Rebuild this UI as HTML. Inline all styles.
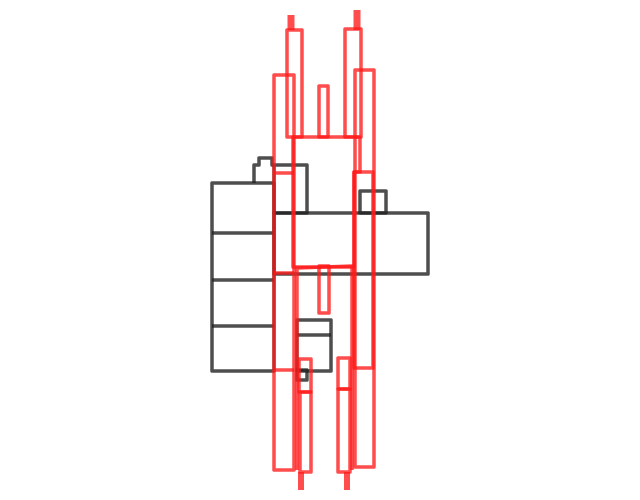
<!DOCTYPE html>
<html><head><meta charset="utf-8"><style>html,body{margin:0;padding:0;background:#fff}svg{display:block}</style></head>
<body>
<svg width="640" height="500" viewBox="0 0 640 500">
<g fill="none" stroke="#222" stroke-opacity="0.8" stroke-width="3.5" stroke-linejoin="round">
  <rect x="212" y="183" width="62" height="188"/>
  <line x1="212" y1="233" x2="274" y2="233"/>
  <line x1="212" y1="280" x2="274" y2="280"/>
  <line x1="212" y1="326" x2="274" y2="326"/>
  <path d="M254 183 V165 H259 V158 H272 V165 H274"/>
  <rect x="274" y="165" width="33" height="48"/>
  <rect x="274" y="213" width="154" height="61"/>
  <rect x="360" y="191" width="26" height="22"/>
  <rect x="297" y="320" width="34" height="51"/>
  <line x1="297" y1="335" x2="331" y2="335"/>
  <rect x="297" y="370" width="10" height="10"/>
</g>
<g fill="none" stroke="#ff1a1a" stroke-opacity="0.78" stroke-width="3.5" stroke-linejoin="round">
  <line x1="291" y1="15" x2="291" y2="30" stroke-width="7"/>
  <line x1="357" y1="10" x2="357" y2="30" stroke-width="7"/>
  <rect x="287" y="30" width="15" height="107"/>
  <rect x="274" y="75" width="20" height="395"/>
  <rect x="319" y="86" width="9" height="51"/>
  <rect x="345" y="29" width="16" height="108"/>
  <rect x="355" y="70" width="19" height="397"/>
  <path d="M293 137 H360 V172 H354 V267 H293 Z"/>
  <rect x="354" y="172" width="19" height="196"/>
  <line x1="274" y1="173" x2="294" y2="173"/>
  <line x1="274" y1="273" x2="294" y2="273"/>
  <line x1="274" y1="370" x2="294" y2="370"/>
  <path d="M297 470 V268 L352 266 V470"/>
  <rect x="319" y="266" width="10" height="47"/>
  <rect x="299" y="359" width="12" height="33"/>
  <rect x="300" y="392" width="11" height="80"/>
  <rect x="338" y="358" width="12" height="31"/>
  <rect x="338" y="389" width="12" height="83"/>
  <line x1="301" y1="472" x2="301" y2="490" stroke-width="6"/>
  <line x1="347" y1="472" x2="347" y2="490" stroke-width="6"/>
</g>
</svg>
</body></html>
